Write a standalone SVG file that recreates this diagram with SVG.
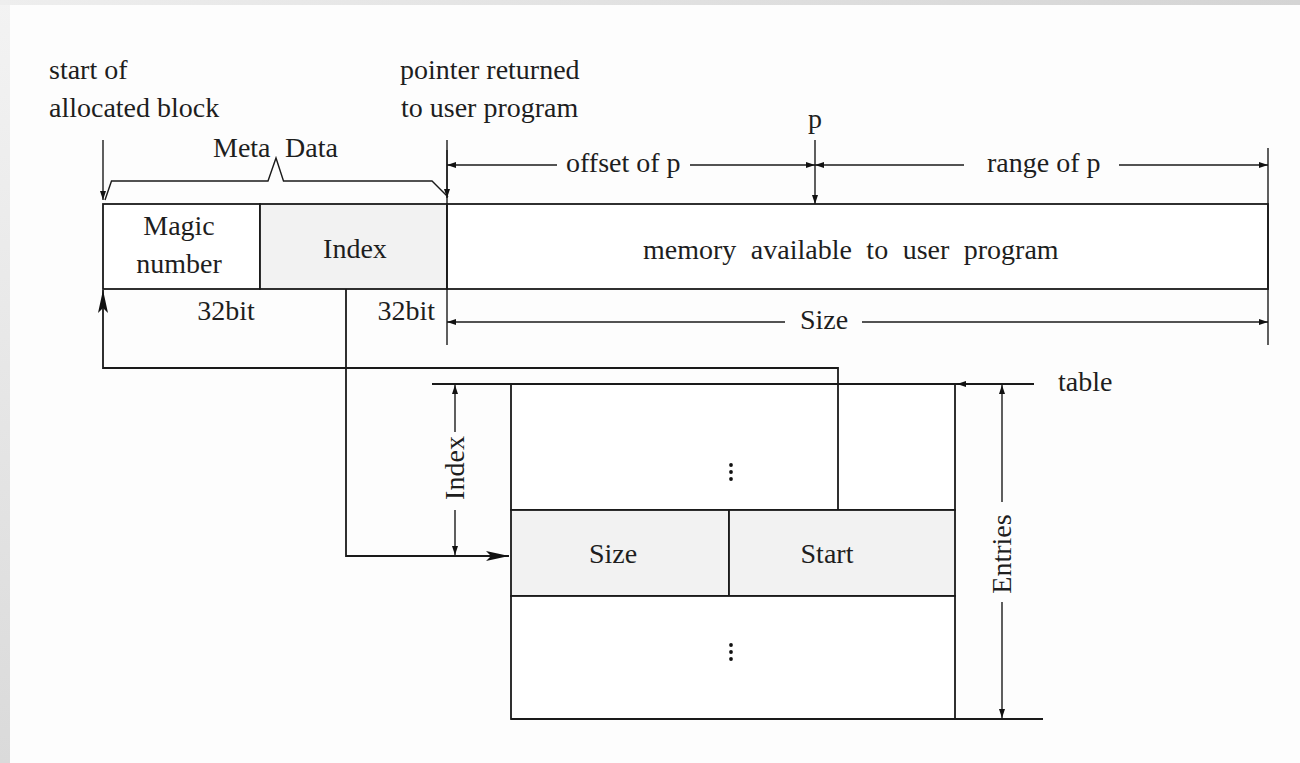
<svg xmlns="http://www.w3.org/2000/svg" width="1300" height="763" viewBox="0 0 1300 763">
<defs>
<linearGradient id="gl" x1="0" y1="0" x2="0" y2="1"><stop offset="0" stop-color="#f3f3f3"/><stop offset="1" stop-color="#dadada"/></linearGradient>
<linearGradient id="gt" x1="0" y1="0" x2="1" y2="0"><stop offset="0" stop-color="#eeeeee"/><stop offset="1" stop-color="#d4d4d4"/></linearGradient>
<marker id="sm" markerUnits="userSpaceOnUse" markerWidth="10" markerHeight="7" refX="9" refY="3.5" orient="auto-start-reverse" viewBox="0 0 10 7">
<path d="M0,0.5 L9,3.5 L0,6.5 z" fill="#111"/>
</marker>
<marker id="big" markerUnits="userSpaceOnUse" markerWidth="24" markerHeight="12" refX="23" refY="6" orient="auto" viewBox="0 0 24 12">
<path d="M0,1 L23,6 L0,11 L5,6 z" fill="#111"/>
</marker>
<style>
text{font-family:"Liberation Serif","Times New Roman",serif;font-size:28px;fill:#1e1e1e}
.ln{stroke:#1a1a1a;stroke-width:1.8;fill:none}
.th{stroke:#1a1a1a;stroke-width:1.4;fill:none}
.cell{stroke:#1a1a1a;stroke-width:1.8}
.m{text-anchor:middle}
</style>
</defs>
<rect x="0" y="0" width="1300" height="763" fill="#fdfdfd"/>
<rect x="0" y="0" width="10" height="763" fill="url(#gl)"/>
<rect x="0" y="0" width="1300" height="5" fill="url(#gt)"/>

<g id="labels-top">
<text x="49" y="79">start of</text>
<text x="49" y="117">allocated block</text>
<text x="400" y="79">pointer returned</text>
<text x="401" y="117">to user program</text>
<text x="815" y="128" class="m">p</text>
<text y="157"><tspan x="213">Meta</tspan><tspan x="285">Data</tspan></text>
<text x="566" y="172">offset of p</text>
<text x="987" y="172">range of p</text>
<text x="800" y="329">Size</text>
</g>

<g id="block">
<g id="magic">
<rect x="103" y="204" width="157" height="85" fill="#ffffff" class="cell"/>
<text x="179" y="235" class="m">Magic</text>
<text x="179" y="273" class="m">number</text>
</g>
<g id="index-cell">
<rect x="260" y="204" width="187" height="85" fill="#f2f2f2" class="cell"/>
<text x="355" y="258" class="m">Index</text>
</g>
<g id="memory">
<rect x="447" y="204" width="821" height="85" fill="#ffffff" class="cell"/>
<text x="643" y="259" word-spacing="7.5">memory available to user program</text>
</g>
<text x="226" y="320" class="m">32bit</text>
<text x="435" y="320" text-anchor="end">32bit</text>
</g>

<g id="table">
<g id="row-top">
<rect x="511" y="384" width="444" height="126" fill="#ffffff" class="cell"/>
<circle cx="731" cy="465" r="1.9" fill="#111"/>
<circle cx="731" cy="472" r="1.9" fill="#111"/>
<circle cx="731" cy="479" r="1.9" fill="#111"/>
</g>
<g id="size-cell">
<rect x="511" y="510" width="218" height="86" fill="#f2f2f2" class="cell"/>
<text x="613" y="563" class="m">Size</text>
</g>
<g id="start-cell">
<rect x="729" y="510" width="226" height="86" fill="#f2f2f2" class="cell"/>
<text x="827" y="563" class="m">Start</text>
</g>
<g id="row-bottom">
<rect x="511" y="596" width="444" height="123" fill="#ffffff" class="cell"/>
<circle cx="731" cy="645" r="1.9" fill="#111"/>
<circle cx="731" cy="652" r="1.9" fill="#111"/>
<circle cx="731" cy="659" r="1.9" fill="#111"/>
</g>
<text x="1058" y="391">table</text>
<text transform="translate(1011,554) rotate(-90)" class="m">Entries</text>
<text transform="translate(464,468) rotate(-90)" class="m">Index</text>
</g>

<g id="connectors">
<path d="M103,140 L103,200" class="th" marker-end="url(#sm)"/>
<path d="M447,140 L447,345" class="th"/>
<path d="M447,150 L447,198" class="th" marker-end="url(#sm)"/>
<path d="M105,200 L111.5,181 L268,181 L276,158 L283.5,181 L432,181 L448,197" class="th"/>
<path d="M815,140 L815,204" class="th" marker-end="url(#sm)"/>
<path d="M1268,148 L1268,345" class="th"/>
<path d="M557,165 L447,165" class="th" marker-end="url(#sm)"/>
<path d="M690,165 L815,165" class="th" marker-end="url(#sm)"/>
<path d="M964,165 L815,165" class="th" marker-end="url(#sm)"/>
<path d="M1119,165 L1268,165" class="th" marker-end="url(#sm)"/>
<path d="M785,322 L447,322" class="th" marker-end="url(#sm)"/>
<path d="M862,322 L1268,322" class="th" marker-end="url(#sm)"/>
<path d="M346,289 L346,556 L509,556" class="ln" marker-end="url(#big)"/>
<path d="M838,510 L838,368 L103,368 L103,290" class="ln" marker-end="url(#big)"/>
<path d="M432,384 L1034,384" class="ln"/>
<path d="M511,719 L1043,719" class="ln"/>
<path d="M990,384 L957,384" class="th" marker-end="url(#sm)"/>
<path d="M1002,502 L1002,385" class="th" marker-end="url(#sm)"/>
<path d="M1002,602 L1002,718" class="th" marker-end="url(#sm)"/>
<path d="M455,432 L455,385" class="th" marker-end="url(#sm)"/>
<path d="M455,510 L455,555" class="th" marker-end="url(#sm)"/>
</g>
</svg>
